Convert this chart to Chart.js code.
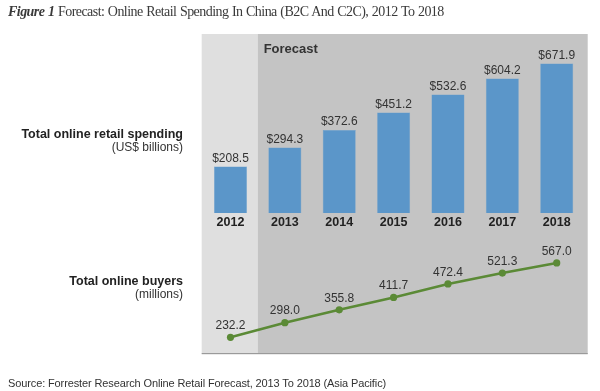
<!DOCTYPE html>
<html>
<head>
<meta charset="utf-8">
<script src="https://cdn.jsdelivr.net/npm/chart.js@4/dist/chart.umd.min.js"></script>
<style>
  html, body { margin: 0; padding: 0; background: #fff; }
  #wrap { position: relative; width: 600px; height: 391px; overflow: hidden; }
  #c { position: absolute; left: 0; top: 0; }
  .t { position: absolute; white-space: nowrap; color: #333; }
  #title { left: 8px; top: 4px; font-family: 'Liberation Serif', 'DejaVu Serif', serif; font-size: 14px; letter-spacing: -0.55px; word-spacing: 0.6px; color: #3a3a3a; line-height: 16px; }
  #source { left: 8px; top: 377px; font-family: 'Liberation Sans', Arial, sans-serif; font-size: 11px; letter-spacing: -0.12px; color: #333; line-height: 13px; }
  .lbl { position: absolute; left: 0; width: 183px; text-align: right; font-family: 'Liberation Sans', Arial, sans-serif; white-space: nowrap; }
  .lbl.b { font-size: 12.5px; font-weight: bold; color: #222; line-height: 14px; }
  .lbl.s { font-size: 12px; color: #333; line-height: 14px; }
</style>
</head>
<body>
<div id="wrap">
  <canvas id="c" width="600" height="391"></canvas>
  <div id="title" class="t"><b><i>Figure 1</i></b> Forecast: Online Retail Spending In China (B2C And C2C), 2012 To 2018</div>
  <div class="lbl b" style="top:127px">Total online retail spending</div>
  <div class="lbl s" style="top:140px">(US$ billions)</div>
  <div class="lbl b" style="top:273.5px">Total online buyers</div>
  <div class="lbl s" style="top:286.5px">(millions)</div>
  <div id="source" class="t">Source: Forrester Research Online Retail Forecast, 2013 To 2018 (Asia Pacific)</div>
</div>
<script>
const years = ['2012', '2013', '2014', '2015', '2016', '2017', '2018'];
const spending = [208.5, 294.3, 372.6, 451.2, 532.6, 604.2, 671.9];
const buyers = [232.2, 298.0, 355.8, 411.7, 472.4, 521.3, 567.0];
const forecastLabel = 'Forecast';

const panelPlugin = {
  id: 'panel',
  beforeDraw(chart) {
    const ctx = chart.ctx, ca = chart.chartArea, xs = chart.scales.x;
    const left = ca.left - 1.6, right = ca.right + 3.8;
    const split = (xs.getPixelForValue(0) + xs.getPixelForValue(1)) / 2;
    ctx.save();
    ctx.fillStyle = '#dfdfdf';
    ctx.fillRect(left, ca.top, split - left, ca.bottom - ca.top);
    ctx.fillStyle = '#c4c4c4';
    ctx.fillRect(split, ca.top, right - split, ca.bottom - ca.top);
    ctx.fillStyle = '#9a9a9a';
    ctx.fillRect(left, ca.bottom - 1, right - left, 1.2);
    ctx.fillStyle = '#333';
    ctx.font = 'bold 13px "Liberation Sans", Arial, sans-serif';
    ctx.textAlign = 'left';
    ctx.textBaseline = 'middle';
    ctx.fillText(forecastLabel, split + 6, ca.top + 15);
    ctx.restore();
  },
  afterDatasetsDraw(chart) {
    const ctx = chart.ctx;
    ctx.save();
    ctx.font = '12px "Liberation Sans", Arial, sans-serif';
    ctx.fillStyle = '#333';
    ctx.textAlign = 'center';
    ctx.textBaseline = 'middle';
    chart.getDatasetMeta(0).data.forEach((el, i) => {
      ctx.fillText('$' + spending[i].toFixed(1), el.x, el.y - 8);
    });
    chart.getDatasetMeta(1).data.forEach((el, i) => {
      ctx.fillText(buyers[i].toFixed(1), el.x, el.y - 11.5);
    });
    ctx.restore();
  }
};

new Chart(document.getElementById('c'), {
  data: {
    labels: years,
    datasets: [
      {
        type: 'bar',
        data: spending,
        backgroundColor: '#5b96c9',
        borderColor: '#6aa0cf',
        borderWidth: 0.5,
        categoryPercentage: 1,
        barPercentage: 0.607,
        yAxisID: 'y'
      },
      {
        type: 'line',
        data: buyers,
        borderColor: '#5b8a36',
        backgroundColor: '#5b8a36',
        borderWidth: 2.5,
        pointRadius: 3.6,
        pointHoverRadius: 3.6,
        pointBorderWidth: 0,
        tension: 0,
        yAxisID: 'y2'
      }
    ]
  },
  options: {
    responsive: false,
    animation: false,
    devicePixelRatio: 1,
    layout: { padding: { left: 203.3, right: 16.1, top: 34, bottom: 37 } },
    plugins: { legend: { display: false }, tooltip: { enabled: false }, title: { display: false } },
    scales: {
      x: {
        type: 'category',
        offset: true,
        position: { y: 0 },
        grid: { display: false, drawTicks: false },
        border: { display: false },
        ticks: {
          padding: 2,
          color: '#222',
          font: { family: '"Liberation Sans", Arial, sans-serif', size: 12.5, weight: 'bold' }
        }
      },
      y: { display: false, min: -633.4, max: 804.1 },
      y2: { display: false, min: 157.0, max: 1597.2 }
    }
  },
  plugins: [panelPlugin]
});
</script>
</body>
</html>
